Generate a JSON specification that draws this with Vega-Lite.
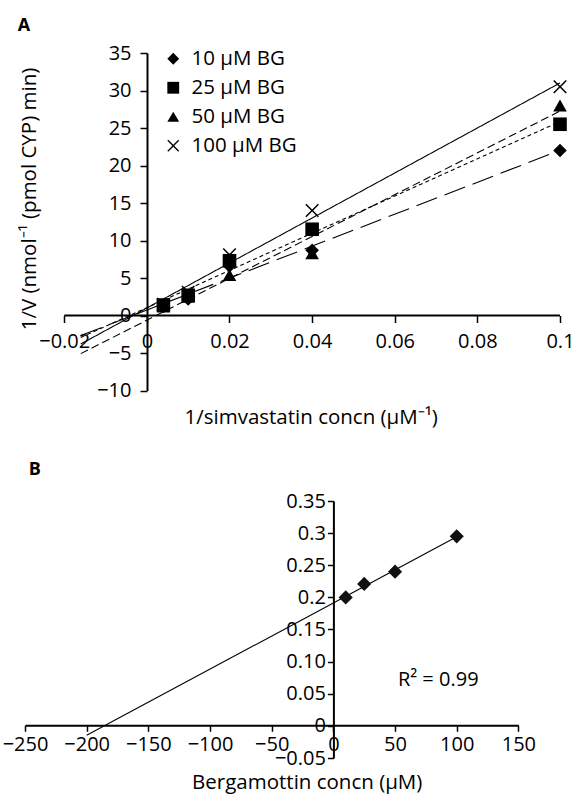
{
  "$schema": "https://vega.github.io/schema/vega-lite/v6.json",
  "background": "white",
  "padding": {"left": 2, "top": 17, "right": 0, "bottom": 0},
  "config": {
    "font": "Open Sans",
    "view": {"stroke": null},
    "axis": {
      "labelFont": "Open Sans", "labelFontSize": 20, "labelColor": "black",
      "titleFont": "Open Sans", "titleFontSize": 20.5, "titleFontWeight": "normal", "titleColor": "black",
      "domainColor": "black", "tickColor": "black", "grid": false,
      "domainWidth": 2, "tickWidth": 1.5, "labelFlush": false, "labelOverlap": false
    },
    "legend": {
      "labelFont": "Open Sans", "labelFontSize": 20.5, "labelColor": "black"
    }
  },
  "bounds": "flush",
  "spacing": 110,
  "vconcat": [
    {
      "width": 535,
      "height": 337.5,
      "title": {"text": "A", "anchor": "start", "frame": "group", "font": "Open Sans", "fontSize": 18, "fontWeight": "bold", "color": "black", "baseline": "alphabetic", "offset": -6, "dx": -7.3},
      "data": {"values": [
        {"series": "10 μM BG", "s": 0.004, "v": 1.2},
        {"series": "10 μM BG", "s": 0.01, "v": 2.2},
        {"series": "10 μM BG", "s": 0.02, "v": 6.6},
        {"series": "10 μM BG", "s": 0.04, "v": 8.7},
        {"series": "10 μM BG", "s": 0.1, "v": 22.0},
        {"series": "25 μM BG", "s": 0.004, "v": 1.4},
        {"series": "25 μM BG", "s": 0.01, "v": 2.7},
        {"series": "25 μM BG", "s": 0.02, "v": 7.3},
        {"series": "25 μM BG", "s": 0.04, "v": 11.5},
        {"series": "25 μM BG", "s": 0.1, "v": 25.5},
        {"series": "50 μM BG", "s": 0.004, "v": 1.2},
        {"series": "50 μM BG", "s": 0.01, "v": 2.5},
        {"series": "50 μM BG", "s": 0.02, "v": 5.4},
        {"series": "50 μM BG", "s": 0.04, "v": 8.3},
        {"series": "50 μM BG", "s": 0.1, "v": 28.0},
        {"series": "100 μM BG", "s": 0.004, "v": 1.5},
        {"series": "100 μM BG", "s": 0.01, "v": 3.1},
        {"series": "100 μM BG", "s": 0.02, "v": 8.1},
        {"series": "100 μM BG", "s": 0.04, "v": 14.0},
        {"series": "100 μM BG", "s": 0.1, "v": 30.5}
      ]},
      "encoding": {
        "x": {
          "field": "s", "type": "quantitative",
          "scale": {"domain": [-0.0295, 0.1], "nice": false, "zero": false},
          "axis": {
            "orient": "bottom", "offset": -75, "domain": false,
            "values": [-0.02, 0, 0.02, 0.04, 0.06, 0.08, 0.1], "format": "~g",
            "tickSize": 7, "labelPadding": 9,
            "title": "1/simvastatin concn (μM⁻¹)",
            "titleX": 285.7, "titleY": 108, "titleBaseline": "alphabetic", "titleAlign": "center"
          }
        },
        "y": {
          "field": "v", "type": "quantitative",
          "scale": {"domain": [-10, 35], "nice": false, "zero": false},
          "axis": {
            "orient": "left", "offset": -122,
            "values": [-10, -5, 0, 5, 10, 15, 20, 25, 30, 35],
            "tickSize": 7, "labelPadding": 9,
            "title": "1/V (nmol⁻¹ (pmol CYP) min)",
            "titleX": -111.3, "titleY": 145.5, "titleAngle": 270, "titleBaseline": "alphabetic", "titleAlign": "center"
          }
        }
      },
      "resolve": {"legend": {"shape": "independent", "strokeDash": "independent"}},
      "layer": [
        {
          "data": {"values": [{"s": -0.02, "s2": 0.1, "v": 0}]},
          "mark": {"type": "rule", "color": "black", "strokeWidth": 2},
          "encoding": {"x2": {"field": "s2"}}
        },
        {
          "transform": [{"regression": "v", "on": "s", "groupby": ["series"], "extent": [-0.016, 0.1]}],
          "mark": {"type": "line", "color": "black", "strokeWidth": 1.1},
          "encoding": {
            "strokeDash": {
              "field": "series", "type": "nominal",
              "scale": {"domain": ["10 μM BG", "25 μM BG", "50 μM BG", "100 μM BG"], "range": [[22, 8], [4, 3], [8, 4], [1, 0]]},
              "legend": null
            }
          }
        },
        {
          "mark": {"type": "point", "filled": true, "fill": "black", "strokeWidth": 0, "size": 185, "opacity": 1},
          "encoding": {
            "shape": {
              "field": "series", "type": "nominal",
              "scale": {"domain": ["10 μM BG", "25 μM BG", "50 μM BG", "100 μM BG"], "range": ["diamond", "square", "triangle-up", "M-1,-0.84L-0.84,-1L0,-0.16L0.84,-1L1,-0.84L0.16,0L1,0.84L0.84,1L0,0.16L-0.84,1L-1,0.84L-0.16,0Z"]},
              "legend": {
                "orient": "none", "legendX": 138, "legendY": -4.5, "title": null, "padding": 0,
                "rowPadding": 8, "labelOffset": 8, "symbolSize": 140,
                "labelFontSize": 20.5, "labelFont": "Open Sans",
                "symbolFillColor": "black", "symbolStrokeWidth": 0,
                "encode": {"symbols": {"update": {"fill": {"value": "black"}, "strokeWidth": {"value": 0}, "size": {"value": 140}, "opacity": {"value": 1}}}}
              }
            }
          }
        }
      ]
    },
    {
      "width": 493.4,
      "height": 257,
      "title": {"text": "B", "anchor": "start", "frame": "group", "font": "Open Sans", "fontSize": 18, "fontWeight": "bold", "color": "black", "baseline": "alphabetic", "offset": -2, "dx": 3.7},
      "encoding": {
        "x": {
          "field": "c", "type": "quantitative",
          "scale": {"domain": [-250, 150], "nice": false, "zero": false},
          "axis": {
            "orient": "bottom", "offset": -32.7,
            "values": [-250, -200, -150, -100, -50, 0, 50, 100, 150],
            "tickSize": 6, "labelPadding": 3,
            "title": "Bergamottin concn (μM)",
            "titleX": 281.7, "titleY": 63.5, "titleBaseline": "alphabetic", "titleAlign": "center"
          }
        },
        "y": {
          "field": "r", "type": "quantitative",
          "scale": {"domain": [-0.05, 0.35], "nice": false, "zero": false},
          "axis": {
            "orient": "left", "offset": -308.4,
            "values": [-0.05, 0, 0.05, 0.1, 0.15, 0.2, 0.25, 0.3, 0.35], "format": "~g",
            "labelExpr": "abs(datum.value - 0.1) < 1e-9 ? '0.10' : datum.label",
            "tickSize": 6, "labelPadding": 2, "title": null
          }
        }
      },
      "layer": [
        {
          "data": {"values": [
            {"c": 10, "r": 0.2},
            {"c": 25, "r": 0.221},
            {"c": 50, "r": 0.24},
            {"c": 100, "r": 0.295}
          ]},
          "transform": [{"regression": "r", "on": "c", "extent": [-200, 100]}],
          "mark": {"type": "line", "color": "black", "strokeWidth": 1.1}
        },
        {
          "data": {"values": [
            {"c": 10, "r": 0.2},
            {"c": 25, "r": 0.221},
            {"c": 50, "r": 0.24},
            {"c": 100, "r": 0.295}
          ]},
          "mark": {"type": "point", "shape": "diamond", "filled": true, "fill": "#111111", "strokeWidth": 0, "size": 200, "opacity": 1}
        },
        {
          "data": {"values": [{"c": 85, "r": 0.071, "label": "R² = 0.99"}]},
          "mark": {"type": "text", "font": "Open Sans", "fontSize": 20, "color": "black", "align": "center", "baseline": "middle"},
          "encoding": {"text": {"field": "label", "type": "nominal"}}
        }
      ]
    }
  ]
}
